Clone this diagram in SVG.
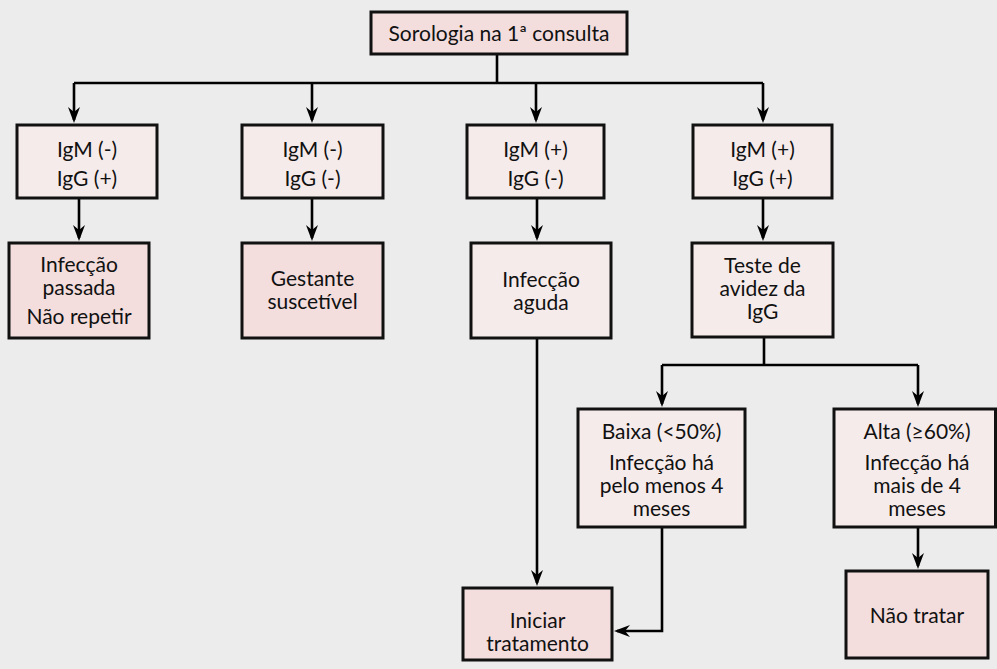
<svg xmlns="http://www.w3.org/2000/svg" width="997" height="669" viewBox="0 0 997 669">
<style>
.bg{fill:#ececec}
.box{stroke:#111;stroke-width:3}
.lt{fill:#f6ebeb}
.dk{fill:#f3dddd}
.t{font-family:Lato,"Open Sans","Liberation Sans",sans-serif;font-size:21px;fill:#111;text-anchor:middle}
.c{fill:none;stroke:#000;stroke-width:2.6}
</style>
<defs>
<marker id="ah" viewBox="0 0 16 12" refX="13" refY="6" markerWidth="16" markerHeight="12" markerUnits="userSpaceOnUse" orient="auto">
<path d="M0,0 L16,6 L0,12 L5,6 z" fill="#000"/>
</marker>
</defs>
<rect class="bg" x="0" y="0" width="997" height="669"/>
<g id="connectors">
<path class="c" d="M497,54 V83"/>
<path class="c" d="M74,83 H763"/>
<path class="c" d="M74,83 V120" marker-end="url(#ah)"/>
<path class="c" d="M312,83 V120" marker-end="url(#ah)"/>
<path class="c" d="M536,83 V120" marker-end="url(#ah)"/>
<path class="c" d="M763,83 V120" marker-end="url(#ah)"/>
<path class="c" d="M79,198 V238" marker-end="url(#ah)"/>
<path class="c" d="M312,198 V238" marker-end="url(#ah)"/>
<path class="c" d="M537,198 V238" marker-end="url(#ah)"/>
<path class="c" d="M763,198 V238" marker-end="url(#ah)"/>
<path class="c" d="M537,338 V583" marker-end="url(#ah)"/>
<path class="c" d="M764,338 V365"/>
<path class="c" d="M662,365 H918"/>
<path class="c" d="M662,365 V404" marker-end="url(#ah)"/>
<path class="c" d="M918,365 V404" marker-end="url(#ah)"/>
<path class="c" d="M662,527 V631 H617" marker-end="url(#ah)"/>
<path class="c" d="M918,527 V566" marker-end="url(#ah)"/>
</g>
<g id="n-sorologia">
<rect class="box dk" x="371" y="12" width="256" height="42"/>
<text class="t" x="499" y="41">Sorologia na 1ª consulta</text>
</g>
<g id="n-igm-neg-igg-pos">
<rect class="box lt" x="17" y="125" width="140" height="73"/>
<text class="t" x="87" y="157">IgM (-)</text>
<text class="t" x="87" y="186">IgG (+)</text>
</g>
<g id="n-igm-neg-igg-neg">
<rect class="box lt" x="242" y="125" width="141" height="73"/>
<text class="t" x="312.5" y="157">IgM (-)</text>
<text class="t" x="312.5" y="186">IgG (-)</text>
</g>
<g id="n-igm-pos-igg-neg">
<rect class="box lt" x="467" y="125" width="137" height="73"/>
<text class="t" x="535.5" y="157">IgM (+)</text>
<text class="t" x="535.5" y="186">IgG (-)</text>
</g>
<g id="n-igm-pos-igg-pos">
<rect class="box lt" x="693" y="125" width="139" height="73"/>
<text class="t" x="762.5" y="157">IgM (+)</text>
<text class="t" x="762.5" y="186">IgG (+)</text>
</g>
<g id="n-passada">
<rect class="box dk" x="9" y="243" width="140" height="95"/>
<text class="t" x="79" y="272">Infecção</text>
<text class="t" x="79" y="295">passada</text>
<text class="t" x="79" y="324">Não repetir</text>
</g>
<g id="n-suscetivel">
<rect class="box dk" x="242" y="243" width="141" height="95"/>
<text class="t" x="312.5" y="286">Gestante</text>
<text class="t" x="312.5" y="309">suscetível</text>
</g>
<g id="n-aguda">
<rect class="box lt" x="471" y="243" width="140" height="95"/>
<text class="t" x="541" y="287">Infecção</text>
<text class="t" x="541" y="310">aguda</text>
</g>
<g id="n-avidez">
<rect class="box lt" x="692" y="243" width="141" height="94"/>
<text class="t" x="762.5" y="273">Teste de</text>
<text class="t" x="762.5" y="296">avidez da</text>
<text class="t" x="762.5" y="319">IgG</text>
</g>
<g id="n-baixa">
<rect class="box lt" x="578" y="409" width="167" height="118"/>
<text class="t" x="661.5" y="439">Baixa (&lt;50%)</text>
<text class="t" x="661.5" y="470">Infecção há</text>
<text class="t" x="661.5" y="493">pelo menos 4</text>
<text class="t" x="661.5" y="516">meses</text>
</g>
<g id="n-alta">
<rect class="box lt" x="834" y="409" width="161.5" height="118"/>
<text class="t" x="917" y="439">Alta (≥60%)</text>
<text class="t" x="917" y="470">Infecção há</text>
<text class="t" x="917" y="493">mais de 4</text>
<text class="t" x="917" y="516">meses</text>
</g>
<g id="n-iniciar">
<rect class="box dk" x="463" y="588" width="149" height="72"/>
<text class="t" x="537.5" y="628">Iniciar</text>
<text class="t" x="537.5" y="651">tratamento</text>
</g>
<g id="n-nao-tratar">
<rect class="box dk" x="846" y="571" width="142" height="87"/>
<text class="t" x="917" y="623">Não tratar</text>
</g>
</svg>
